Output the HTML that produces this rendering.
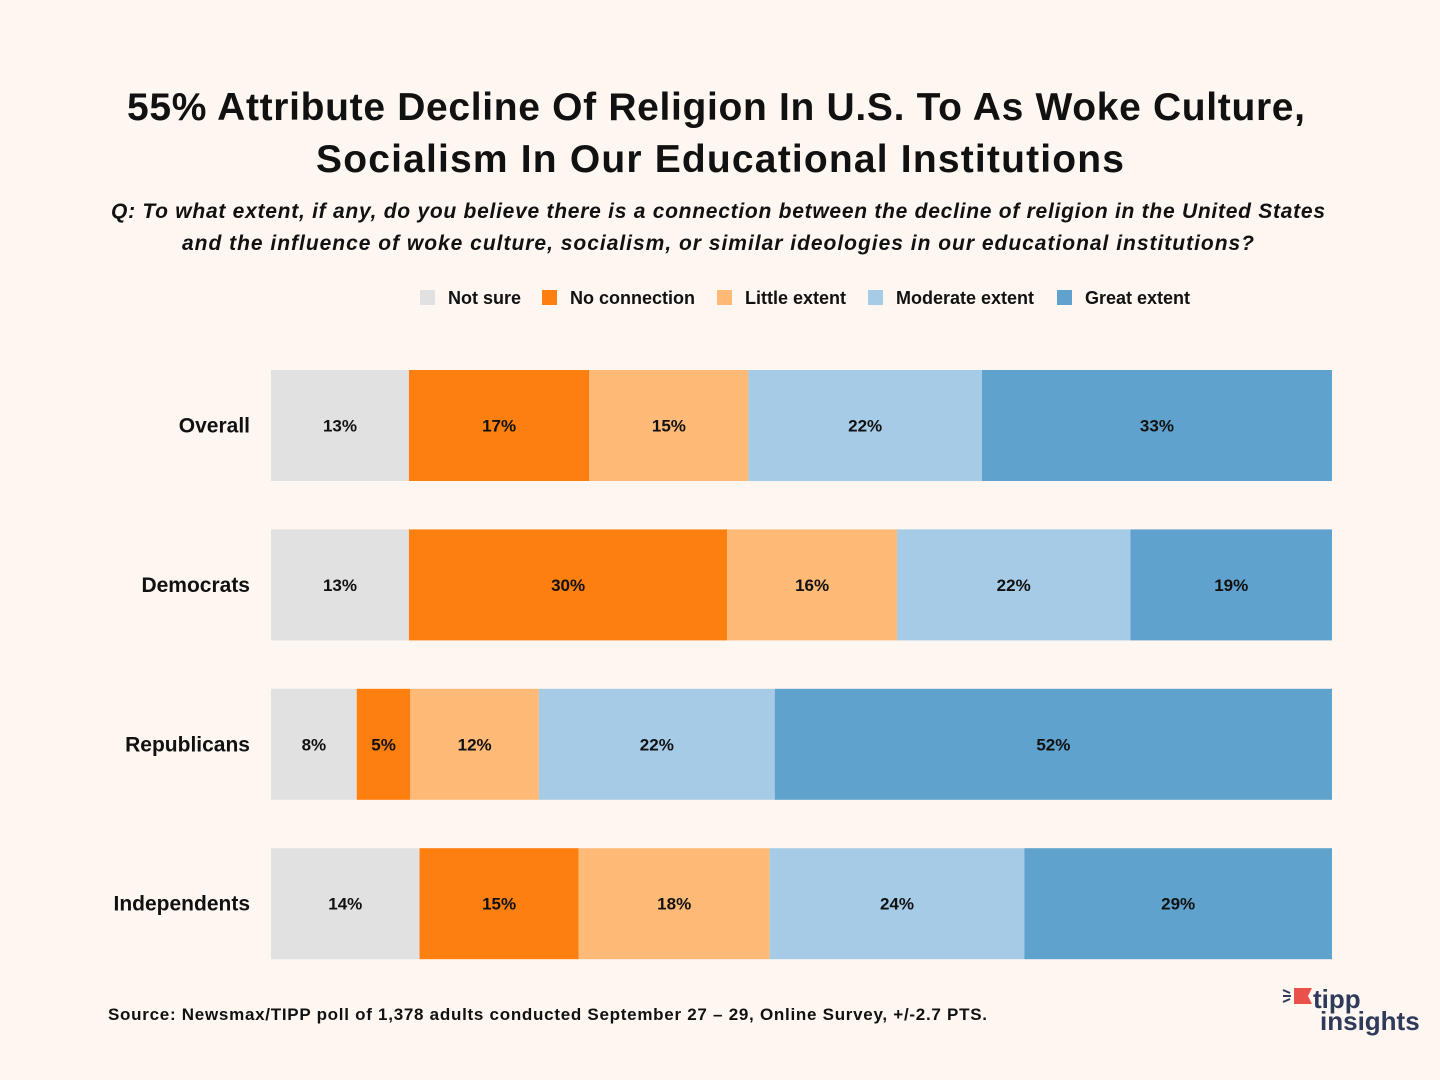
<!DOCTYPE html>
<html><head><meta charset="utf-8"><style>
html,body{margin:0;padding:0;background:#fdf6f1;}
svg{display:block;font-family:"Liberation Sans",sans-serif;}
</style></head><body>
<svg id="chart" width="1440" height="1080" viewBox="0 0 1440 1080">
<rect width="1440" height="1080" fill="#fdf6f1"/>
<text x="716" y="120" text-anchor="middle" font-size="39" font-weight="bold" fill="#111" textLength="1178" lengthAdjust="spacing">55% Attribute Decline Of Religion In U.S. To As Woke Culture,</text>
<text x="720" y="172" text-anchor="middle" font-size="39" font-weight="bold" fill="#111" textLength="808" lengthAdjust="spacing">Socialism In Our Educational Institutions</text>
<text x="718" y="218" text-anchor="middle" font-size="21" font-style="italic" font-weight="bold" fill="#111" textLength="1214" lengthAdjust="spacing">Q: To what extent, if any, do you believe there is a connection between the  decline of religion in the United States</text>
<text x="718" y="250" text-anchor="middle" font-size="21" font-style="italic" font-weight="bold" fill="#111" textLength="1072" lengthAdjust="spacing">and the influence of woke  culture, socialism, or similar ideologies in our educational  institutions?</text>
<g id="legend"></g>
<g id="bars"></g>
<text x="108" y="1020" font-size="17" font-weight="bold" fill="#111" textLength="879" lengthAdjust="spacing">Source: Newsmax/TIPP poll of 1,378 adults conducted September 27 – 29, Online Survey, +/-2.7 PTS.</text>
<g>
<path d="M1294 988 h18 l-4 8 l4 8 h-18 z" fill="#e8524a"/>
<path d="M1283 990 l7 3 M1283 996 h8 M1283 1002 l7 -3" stroke="#2f3a5a" stroke-width="2"/>
<text x="1313" y="1008" font-size="26" font-weight="bold" fill="#2f3a5a">tipp</text>
<text x="1320" y="1030" font-size="26" font-weight="bold" fill="#2f3a5a">insights</text>
</g>
</svg>
<script>
const categories = ["Overall","Democrats","Republicans","Independents"];
const seriesNames = ["Not sure","No connection","Little extent","Moderate extent","Great extent"];
const notSure = [13,13,8,14];
const noConnection = [17,30,5,15];
const littleExtent = [15,16,12,18];
const moderateExtent = [22,22,22,24];
const greatExtent = [33,19,52,29];
const colors = ["#e1e1e1","#fd7f0f","#ffba78","#a6cbe7","#5fa2cd"];
const ns="http://www.w3.org/2000/svg";
const series=[notSure,noConnection,littleExtent,moderateExtent,greatExtent];
const x0=271,x1=1332,yTop=370,pitch=159.4,bh=111;
const xScale=(v,total)=>x0+(x1-x0)*v/total;
const bars=document.getElementById('bars');
categories.forEach((c,i)=>{
  const total=series.reduce((s,a)=>s+a[i],0);
  const y=yTop+i*pitch;
  const lab=document.createElementNS(ns,'text');
  
  
  lab.setAttribute('x',250);lab.setAttribute('y',y+bh/2+7);
  lab.setAttribute('text-anchor','end');lab.setAttribute('font-size','21');lab.setAttribute('font-weight','bold');lab.setAttribute('fill','#111');
  lab.textContent=c;bars.appendChild(lab);
  let cum=0;
  series.forEach((arr,k)=>{
    const xa=xScale(cum,total),xb=xScale(cum+arr[i],total);cum+=arr[i];
    const r=document.createElementNS(ns,'rect');
    
    
    r.setAttribute('x',xa);r.setAttribute('y',y);r.setAttribute('width',xb-xa);r.setAttribute('height',bh);r.setAttribute('fill',colors[k]);
    bars.appendChild(r);
    const t=document.createElementNS(ns,'text');
    
    
    t.setAttribute('x',(xa+xb)/2);t.setAttribute('y',y+bh/2+6);t.setAttribute('text-anchor','middle');
    t.setAttribute('font-size','17');t.setAttribute('font-weight','bold');t.setAttribute('fill','#111');
    t.textContent=arr[i]+'%';bars.appendChild(t);
  });
});
const legend=document.getElementById('legend');
const lx=[420,542,717,868,1057];
seriesNames.forEach((n,k)=>{
  const r=document.createElementNS(ns,'rect');
  
  
  r.setAttribute('x',lx[k]);r.setAttribute('y',290);r.setAttribute('width',15);r.setAttribute('height',15);r.setAttribute('fill',colors[k]);
  legend.appendChild(r);
  const t=document.createElementNS(ns,'text');
  
  
  t.setAttribute('x',lx[k]+28);t.setAttribute('y',304);t.setAttribute('font-size','18');t.setAttribute('font-weight','bold');t.setAttribute('fill','#111');
  t.textContent=n;legend.appendChild(t);
});
</script>
</body></html>
